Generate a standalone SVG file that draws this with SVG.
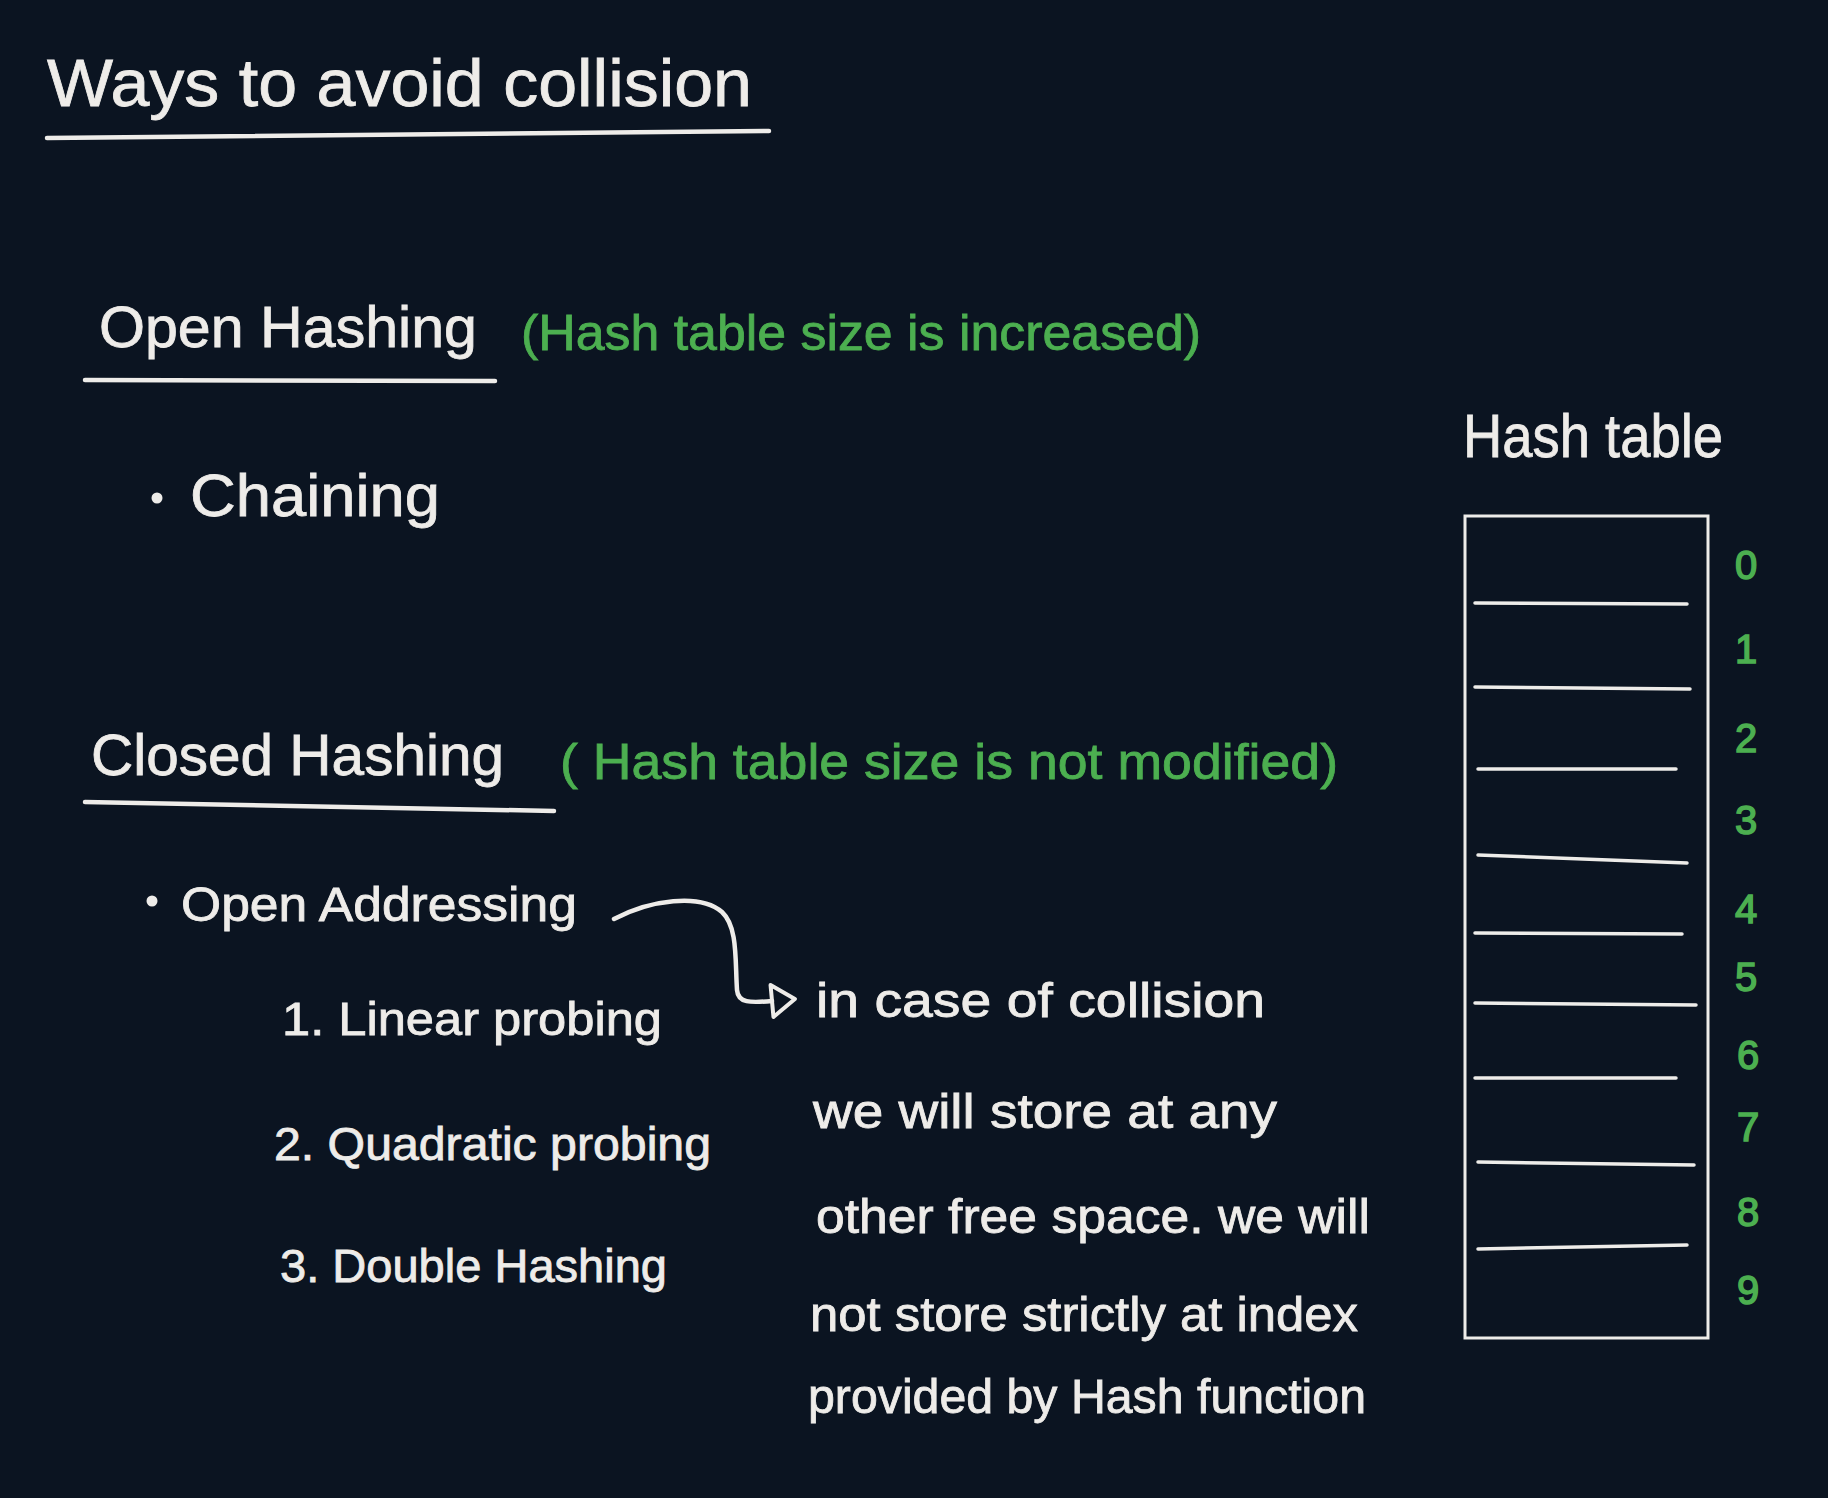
<svg xmlns="http://www.w3.org/2000/svg" width="1828" height="1498" viewBox="0 0 1828 1498">
<style>
.w{fill:#eeece9;font-family:"Liberation Sans",Arial,sans-serif;stroke:#eeece9;stroke-width:0.8}
.g{fill:#4caf50;font-family:"Liberation Sans",Arial,sans-serif;stroke:#4caf50;stroke-width:0.8}
.ln{stroke:#eeece9;stroke-width:4.5;stroke-linecap:round;fill:none}
.row{stroke:#eeece9;stroke-width:3.5;stroke-linecap:round;fill:none}
.num{font-size:40px;text-anchor:middle;dominant-baseline:central;stroke-width:1.5}
.dot{fill:#eeece9}
</style>
<defs>
<marker id="tri" markerUnits="userSpaceOnUse" markerWidth="30" markerHeight="40" viewBox="-3 -3 30 40" refX="0" refY="16" orient="auto">
<path d="M0,0 L23,16 L0,32 Z" fill="none" stroke="#eeece9" stroke-width="4" stroke-linejoin="round"/>
</marker>
</defs>
<rect x="0" y="0" width="1828" height="1498" fill="#0b1421"/>

<g id="title">
<text class="w" x="47" y="106" font-size="66" textLength="705" lengthAdjust="spacingAndGlyphs">Ways to avoid collision</text>
<path class="ln" d="M47,138 L769,131"/>
</g>

<g id="open-hashing">
<text class="w" x="99" y="347" font-size="58" textLength="378" lengthAdjust="spacingAndGlyphs">Open Hashing</text>
<path class="ln" d="M85,380 L495,381"/>
<text class="g" x="521" y="350" font-size="50" textLength="680" lengthAdjust="spacingAndGlyphs">(Hash table size is increased)</text>
</g>

<g id="chaining">
<circle class="dot" cx="157" cy="498" r="5.5"/>
<text class="w" x="190" y="516" font-size="60" textLength="250" lengthAdjust="spacingAndGlyphs">Chaining</text>
</g>

<g id="closed-hashing">
<text class="w" x="91" y="775" font-size="58" textLength="413" lengthAdjust="spacingAndGlyphs">Closed Hashing</text>
<path class="ln" d="M85,802 L554,811"/>
<text class="g" x="560" y="779" font-size="50" textLength="778" lengthAdjust="spacingAndGlyphs">( Hash table size is not modified)</text>
</g>

<g id="open-addressing">
<circle class="dot" cx="152" cy="901" r="5.5"/>
<text class="w" x="181" y="921" font-size="48" textLength="396" lengthAdjust="spacingAndGlyphs">Open Addressing</text>
</g>

<g id="linear-probing">
<text class="w" x="282" y="1035" font-size="46" textLength="380" lengthAdjust="spacingAndGlyphs">1. Linear probing</text>
</g>
<g id="quadratic-probing">
<text class="w" x="274" y="1160" font-size="46" textLength="437" lengthAdjust="spacingAndGlyphs">2. Quadratic probing</text>
</g>
<g id="double-hashing">
<text class="w" x="280" y="1282" font-size="46" textLength="387" lengthAdjust="spacingAndGlyphs">3. Double Hashing</text>
</g>

<g id="explanation">
<text class="w" x="816" y="1017" font-size="48" textLength="449" lengthAdjust="spacingAndGlyphs">in case of collision</text>
<text class="w" x="813" y="1128" font-size="48" textLength="464" lengthAdjust="spacingAndGlyphs">we will store at any</text>
<text class="w" x="816" y="1233" font-size="48" textLength="554" lengthAdjust="spacingAndGlyphs">other free space. we will</text>
<text class="w" x="810" y="1331" font-size="48" textLength="548" lengthAdjust="spacingAndGlyphs">not store strictly at index</text>
<text class="w" x="808" y="1413" font-size="48" textLength="558" lengthAdjust="spacingAndGlyphs">provided by Hash function</text>
</g>

<g id="hash-table">
<text class="w" x="1463" y="457" font-size="62" textLength="260" lengthAdjust="spacingAndGlyphs">Hash table</text>
<rect x="1465" y="516" width="243" height="822" fill="none" stroke="#eeece9" stroke-width="3"/>
<path class="row" d="M1475,603 L1687,604"/>
<path class="row" d="M1475,687 L1690,689"/>
<path class="row" d="M1478,769 L1676,769"/>
<path class="row" d="M1478,855 L1687,863"/>
<path class="row" d="M1475,933 L1682,934"/>
<path class="row" d="M1475,1003 L1696,1005"/>
<path class="row" d="M1475,1078 L1676,1078"/>
<path class="row" d="M1478,1162 L1694,1165"/>
<path class="row" d="M1478,1249 L1687,1245"/>
<text class="g num" x="1746" y="565">0</text>
<text class="g num" x="1746" y="649">1</text>
<text class="g num" x="1746" y="738">2</text>
<text class="g num" x="1746" y="820">3</text>
<text class="g num" x="1746" y="909">4</text>
<text class="g num" x="1746" y="977">5</text>
<text class="g num" x="1748" y="1055">6</text>
<text class="g num" x="1748" y="1127">7</text>
<text class="g num" x="1748" y="1212">8</text>
<text class="g num" x="1748" y="1290">9</text>
</g>

<g id="connectors">
<path class="ln" d="M614,919 C650,900 700,893 722,912 C738,927 735,960 737,990 C738,1003 750,1003 772,1001" marker-end="url(#tri)"/>
</g>
</svg>
